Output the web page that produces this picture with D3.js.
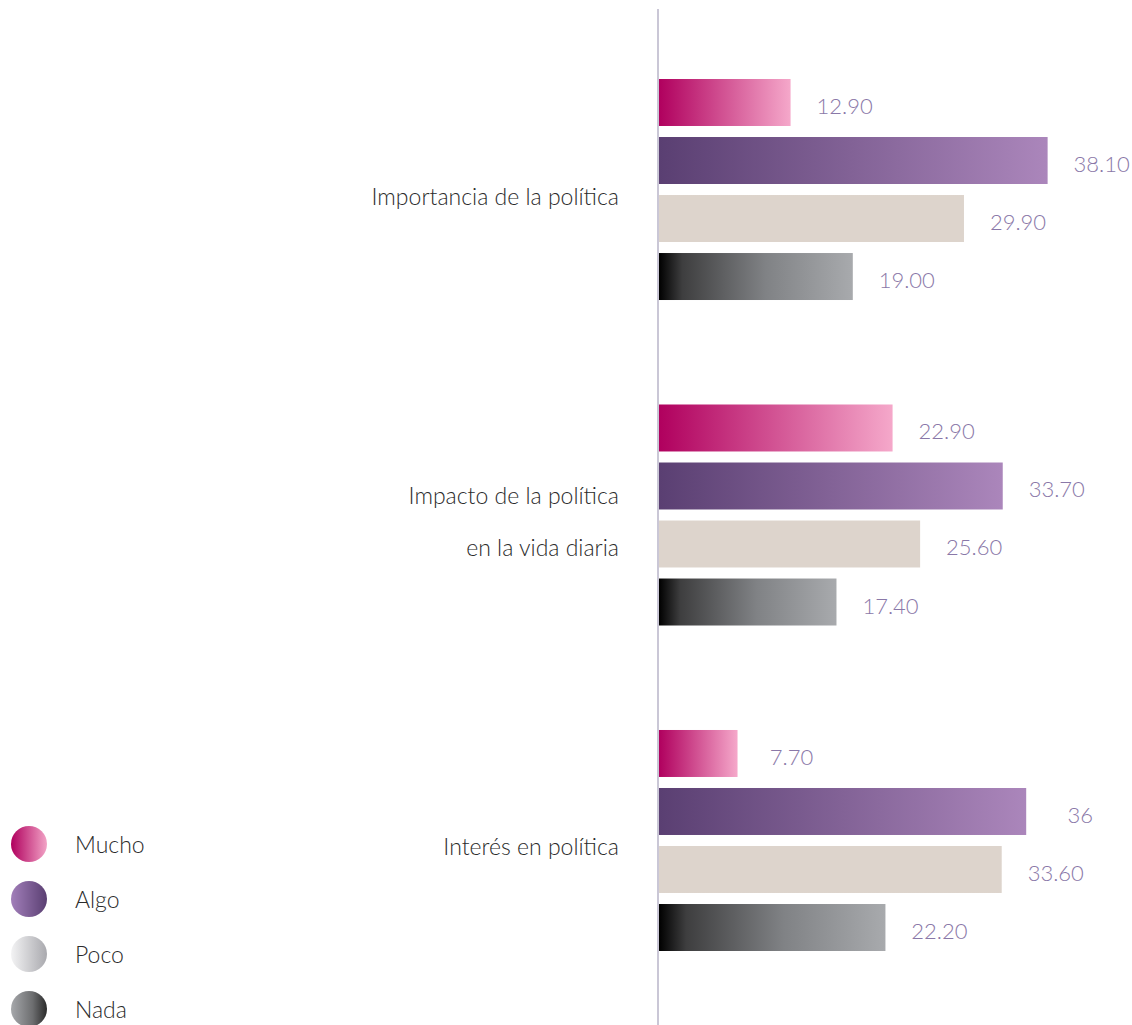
<!DOCTYPE html>
<html>
<head>
<meta charset="utf-8">
<script src="https://cdn.jsdelivr.net/npm/d3@7"></script>
<style>
  html, body { margin: 0; padding: 0; background: #fff; }
  svg { display: block; font-family: Lato, "Open Sans", sans-serif; }
</style>
</head>
<body>
<svg id="chart" width="1132" height="1025"></svg>
<script>
// ---- data ----
const categories = ["Importancia de la política", "Impacto de la política en la vida diaria", "Interés en política"];
const categoryLines = [["Importancia de la política"], ["Impacto de la política", "en la vida diaria"], ["Interés en política"]];
const seriesNames = ["Mucho", "Algo", "Poco", "Nada"];
const mucho = [12.90, 22.90, 7.70];
const algo  = [38.10, 33.70, 36.00];
const poco  = [29.90, 25.60, 33.60];
const nada  = [19.00, 17.40, 22.20];
const muchoLabels = ["12.90", "22.90", "7.70"];
const algoLabels  = ["38.10", "33.70", "36"];
const pocoLabels  = ["29.90", "25.60", "33.60"];
const nadaLabels  = ["19.00", "17.40", "22.20"];

const seriesValues = [mucho, algo, poco, nada];
const seriesLabels = [muchoLabels, algoLabels, pocoLabels, nadaLabels];

// ---- styles ----
const barGradients = {
  Mucho: [["0%", "#b0005e"], ["100%", "#f5a8ca"]],
  Algo:  [["0%", "#5a3f72"], ["100%", "#ab86bb"]],
  Poco:  [["0%", "#ddd4cc"], ["100%", "#ddd4cc"]],
  Nada:  [["0%", "#000000"], ["12%", "#3e3e3f"], ["55%", "#808285"], ["100%", "#a8aaad"]]
};
const legendGradients = {
  Mucho: [["0%", "#b0005e"], ["100%", "#f2a3c6"]],
  Algo:  [["0%", "#a27fba"], ["100%", "#5a3f72"]],
  Poco:  [["0%", "#f3f3f4"], ["100%", "#a9a9ae"]],
  Nada:  [["0%", "#a6a8ab"], ["60%", "#6d6e70"], ["100%", "#2a2a2a"]]
};

const svg = d3.select("#chart");
const defs = svg.append("defs");
function addGrad(id, stops) {
  const g = defs.append("linearGradient").attr("id", id)
    .attr("x1", "0%").attr("x2", "100%").attr("y1", "0%").attr("y2", "0%");
  stops.forEach(s => g.append("stop").attr("offset", s[0]).attr("stop-color", s[1]));
}
seriesNames.forEach(s => { addGrad("bar-" + s, barGradients[s]); addGrad("leg-" + s, legendGradients[s]); });

// ---- scales ----
const x = d3.scaleLinear().domain([0, 46]).range([659, 659 + 46 * 10.2]);
const y0 = d3.scaleBand().domain(categories).range([79, 951]).paddingInner(0.321).paddingOuter(0);
const y1 = d3.scaleBand().domain(seriesNames).range([0, y0.bandwidth()]).paddingInner(0.19);

// ---- axis line ----
svg.append("line")
  .attr("x1", 658).attr("x2", 658).attr("y1", 9).attr("y2", 1025)
  .attr("stroke", "#b9b4c9").attr("stroke-width", 1.5);

// ---- bars ----
const groups = svg.selectAll("g.cat").data(categories).join("g")
  .attr("class", "cat")
  .attr("transform", c => `translate(0,${y0(c)})`);

groups.each(function(c, ci) {
  const g = d3.select(this);
  const rows = seriesNames.map((s, si) => ({ s, v: seriesValues[si][ci], label: seriesLabels[si][ci] }));
  g.selectAll("rect").data(rows).join("rect")
    .attr("x", x(0))
    .attr("y", d => y1(d.s))
    .attr("width", d => x(d.v) - x(0))
    .attr("height", y1.bandwidth())
    .attr("fill", d => `url(#bar-${d.s})`);
  g.selectAll("text.val").data(rows).join("text")
    .attr("class", "val")
    .attr("x", d => x(d.v) + 54)
    .attr("y", d => y1(d.s) + y1.bandwidth() / 2 + 3)
    .attr("text-anchor", "middle")
    .attr("dominant-baseline", "central")
    .attr("fill", "#8a78a8")
    .attr("font-size", 22)
    .attr("font-weight", 300)
    .text(d => d.label);
});

// ---- category labels ----
categories.forEach((c, ci) => {
  const lines = categoryLines[ci];
  const center = y0(c) + y0.bandwidth() / 2 + 6;
  const lh = 52;
  const t = svg.append("text")
    .attr("text-anchor", "end")
    .attr("fill", "#2b2b2b")
    .attr("font-size", 23)
    .attr("font-weight", 300);
  lines.forEach((ln, li) => {
    t.append("tspan")
      .attr("x", 619)
      .attr("y", center + (li - (lines.length - 1) / 2) * lh)
      .attr("dominant-baseline", "central")
      .text(ln);
  });
});

// ---- legend ----
const leg = svg.selectAll("g.leg").data(seriesNames).join("g")
  .attr("class", "leg")
  .attr("transform", (d, i) => `translate(0,${844 + i * 55})`);
leg.append("circle").attr("cx", 29).attr("cy", 0).attr("r", 18)
  .attr("fill", d => `url(#leg-${d})`);
leg.append("text").attr("x", 75).attr("y", 0)
  .attr("dominant-baseline", "central")
  .attr("fill", "#2b2b2b").attr("font-size", 23).attr("font-weight", 300)
  .text(d => d);
</script>
</body>
</html>
